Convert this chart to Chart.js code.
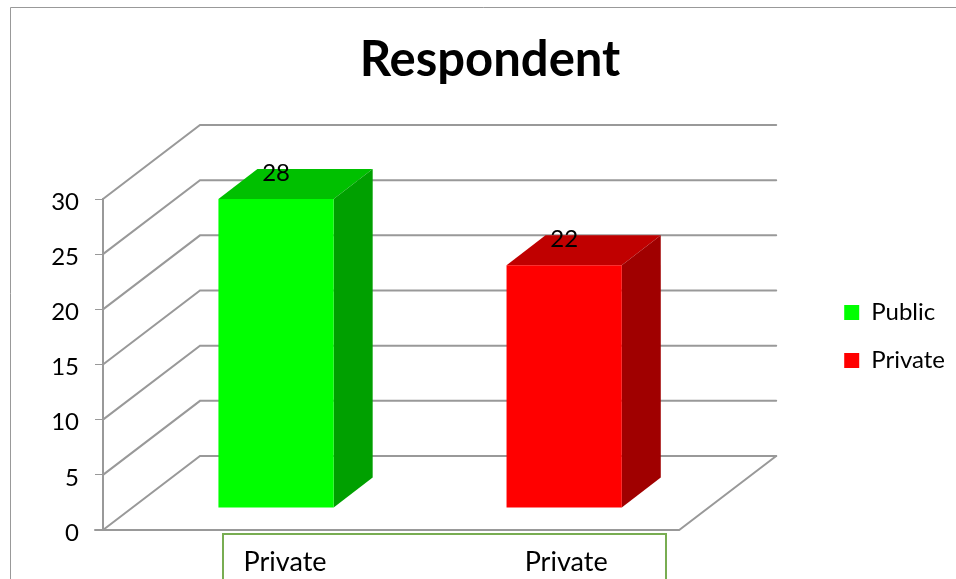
<!DOCTYPE html>
<html>
<head>
<meta charset="utf-8">
<style>
html,body{margin:0;padding:0;background:#fff;overflow:hidden}
#wrap{width:956px;height:579px;position:relative}
</style>
<script src="https://cdn.jsdelivr.net/npm/chart.js@4"></script>
</head>
<body>
<div id="wrap"><canvas id="c" width="956" height="579"></canvas></div>
<script>
const chartTitle = 'Respondent';
const categories = ['Private', 'Private'];
const publicValues = [28, null];
const privateValues = [null, 22];
const yTicks = [0, 5, 10, 15, 20, 25, 30];

const FONT = 'Lato, Carlito, sans-serif';
const WALL = {dx: 97, dy: -74};   // depth of the 3D box
const BAR_SHIFT = {dx: 29, dy: -22}; // bars stand inside the floor
const BAR_DEPTH = {dx: 39, dy: -30};
const GRID = '#999999';
const sideColors = ['#00a000', '#a00000'];
const topColors = ['#00c000', '#c00000'];
const tickNudge = [38, 31];

const scene = {
  id: 'scene',
  afterLayout(chart) {
    chart.legend.top += 47;
    chart.legend.bottom += 47;
  },
  beforeDraw(chart) {
    const {ctx, scales: {x, y}} = chart;
    const W = chart.width, H = chart.height;
    ctx.save();
    // frame
    ctx.strokeStyle = GRID; ctx.lineWidth = 1;
    ctx.beginPath(); ctx.moveTo(10.5, H); ctx.lineTo(10.5, 7.5); ctx.lineTo(W, 7.5); ctx.stroke();
    // label box
    ctx.strokeStyle = '#78ad52'; ctx.lineWidth = 2;
    ctx.beginPath(); ctx.moveTo(223, H + 2); ctx.lineTo(223, 534); ctx.lineTo(666, 534); ctx.lineTo(666, H + 2); ctx.stroke();
    // walls and floor
    const l = x.left, r = x.right;
    ctx.strokeStyle = GRID; ctx.lineWidth = 2;
    ctx.lineCap = 'round';
    yTicks.forEach(v => {
      const py = y.getPixelForValue(v);
      ctx.beginPath();
      ctx.moveTo(l, py);
      ctx.lineTo(l + WALL.dx, py + WALL.dy);
      ctx.lineTo(r + WALL.dx, py + WALL.dy);
      ctx.stroke();
    });
    // right edge of floor and front edge
    const p0 = y.getPixelForValue(0);
    ctx.beginPath();
    ctx.moveTo(l - 8, p0); ctx.lineTo(r, p0); ctx.lineTo(r + WALL.dx, p0 + WALL.dy);
    ctx.stroke();
    ctx.restore();
    // position tick labels
    x.getLabelItems().forEach((it, i) => {
      it.options.translation[0] = x.getPixelForTick(i) + tickNudge[i];
    });
    y.getLabelItems().forEach((it, i) => {
      it.options.translation[1] = y.getPixelForTick(i) + 3;
    });
  },
  beforeDatasetsDraw(chart) {
    const {ctx} = chart;
    // 3D faces behind the front faces
    chart.data.datasets.forEach((ds, di) => {
      chart.getDatasetMeta(di).data.forEach((bar, i) => {
        if (ds.data[i] == null) return;
        const p = bar.getProps(['x', 'y', 'base', 'width'], true);
        const L = p.x - p.width / 2 + BAR_SHIFT.dx, R = p.x + p.width / 2 + BAR_SHIFT.dx;
        const T = p.y + BAR_SHIFT.dy, B = p.base + BAR_SHIFT.dy;
        ctx.save();
        ctx.fillStyle = topColors[di];
        ctx.beginPath();
        ctx.moveTo(L, T); ctx.lineTo(L + BAR_DEPTH.dx, T + BAR_DEPTH.dy);
        ctx.lineTo(R + BAR_DEPTH.dx, T + BAR_DEPTH.dy); ctx.lineTo(R, T);
        ctx.closePath(); ctx.fill();
        ctx.fillStyle = sideColors[di];
        ctx.beginPath();
        ctx.moveTo(R, T); ctx.lineTo(R + BAR_DEPTH.dx, T + BAR_DEPTH.dy);
        ctx.lineTo(R + BAR_DEPTH.dx, B + BAR_DEPTH.dy); ctx.lineTo(R, B);
        ctx.closePath(); ctx.fill();
        ctx.restore();
      });
    });
    ctx.save();
    ctx.translate(BAR_SHIFT.dx, BAR_SHIFT.dy);
  },
  afterDatasetsDraw(chart) {
    const {ctx} = chart;
    ctx.restore();
    ctx.save();
    ctx.fillStyle = '#000';
    ctx.font = '24px ' + FONT;
    ctx.textAlign = 'center';
    ctx.textBaseline = 'middle';
    chart.data.datasets.forEach((ds, di) => {
      chart.getDatasetMeta(di).data.forEach((bar, i) => {
        if (ds.data[i] == null) return;
        ctx.fillText(String(ds.data[i]), bar.x + BAR_SHIFT.dx, bar.y + BAR_SHIFT.dy - 26);
      });
    });
    ctx.restore();
  }
};

new Chart(document.getElementById('c'), {
  type: 'bar',
  data: {
    labels: categories,
    datasets: [
      {label: 'Public', data: publicValues, backgroundColor: '#00ff00', borderWidth: 0, stack: 's', barPercentage: 0.8, categoryPercentage: 0.5},
      {label: 'Private', data: privateValues, backgroundColor: '#ff0000', borderWidth: 0, stack: 's', barPercentage: 0.8, categoryPercentage: 0.5}
    ]
  },
  plugins: [scene],
  options: {
    responsive: false,
    animation: false,
    layout: {padding: {left: 25, right: 1, top: 0, bottom: 0}},
    plugins: {
      tooltip: {enabled: false},
      title: {
        display: true, text: chartTitle, color: '#000',
        font: {family: FONT, size: 49, weight: 'bold'},
        padding: {top: 31, bottom: 109.2}
      },
      legend: {
        position: 'right',
        labels: {
          color: '#000', boxWidth: 15, boxHeight: 15,
          font: {family: FONT, size: 24}, padding: 24
        }
      }
    },
    scales: {
      x: {
        grid: {display: false}, border: {display: false},
        ticks: {color: '#000', font: {family: FONT, size: 27}, padding: 8, maxRotation: 0},
        afterFit(s) { s.height = 49; }
      },
      y: {
        min: 0, max: 30,
        afterBuildTicks(s) { s.ticks = yTicks.map(v => ({value: v})); },
        grid: {drawOnChartArea: false, color: GRID, tickLength: 8, tickWidth: 1},
        border: {color: GRID, width: 2},
        ticks: {color: '#000', font: {family: FONT, size: 24}, padding: 16},
        afterFit(s) { s.width = 78; }
      },
      y2: {
        position: 'right', display: true,
        grid: {display: false}, border: {display: false}, ticks: {display: false},
        afterFit(s) { s.width = 141; }
      }
    }
  }
});
</script>
</body>
</html>
